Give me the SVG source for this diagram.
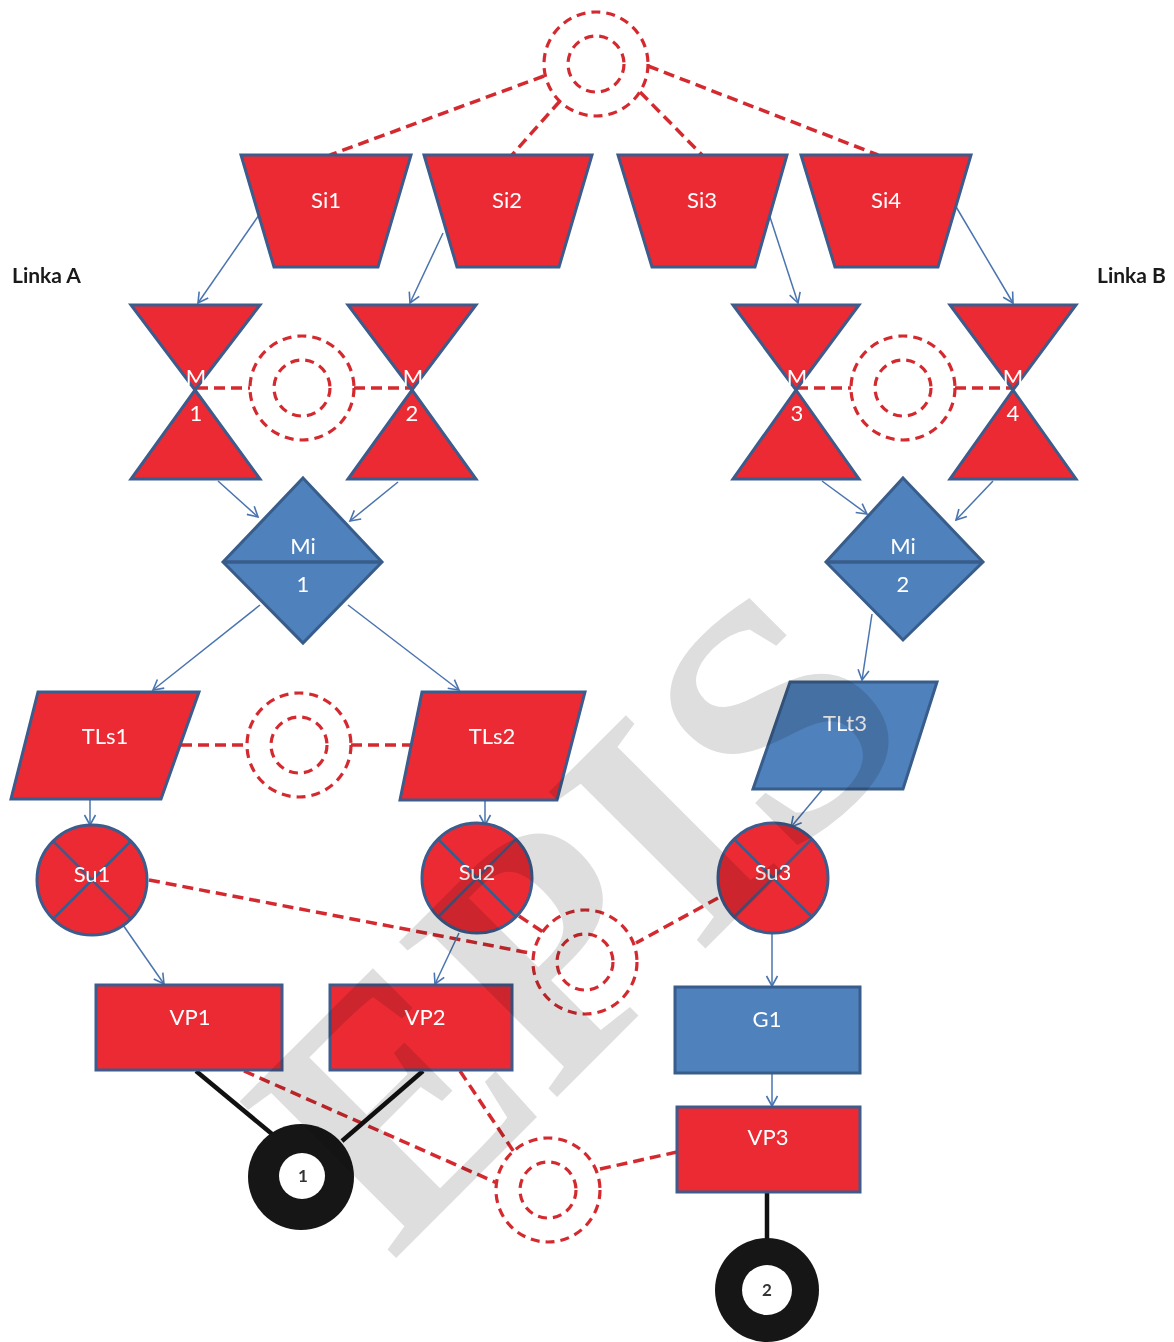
<svg xmlns="http://www.w3.org/2000/svg" width="1174" height="1342" viewBox="0 0 1174 1342">
  <style>
    .red { fill: #ec2a33; stroke: #3b5c8c; stroke-width: 3; stroke-linejoin: miter; }
    .blue { fill: #4f81bd; stroke: #385d8a; stroke-width: 3; }
    .lbl { font-family: Lato, "Liberation Sans", sans-serif; font-size: 22px; fill: #ffffff; text-anchor: middle; }
    .side { font-family: Lato, "Liberation Sans", sans-serif; font-size: 21px; font-weight: bold; fill: #1a1a1a; }
    .num { font-family: Lato, "Liberation Sans", sans-serif; font-size: 17px; font-weight: bold; fill: #333333; text-anchor: middle; }
    .flow { stroke: #4a74b0; stroke-width: 1.5; fill: none; marker-end: url(#arr); }
    .dash { stroke: #d42a2f; stroke-width: 3.5; fill: none; stroke-dasharray: 11 6; }
    .ring { stroke: #d42a2f; stroke-width: 3.2; fill: #ffffff; stroke-dasharray: 9 6; }
    .ringin { stroke: #d42a2f; stroke-width: 3.2; fill: none; stroke-dasharray: 9 6; }
    .blk { stroke: #111111; stroke-width: 4.5; fill: none; }
    .xline { stroke: #3b5c8c; stroke-width: 2.5; }
  </style>
  <defs>
    <marker id="arr" markerUnits="userSpaceOnUse" markerWidth="14" markerHeight="14" refX="11" refY="7" orient="auto">
      <path d="M1,1.5 L11,7 L1,12.5" fill="none" stroke="#4a74b0" stroke-width="1.6"/>
    </marker>
    <g id="coupling">
      <circle r="52" class="ring"/>
      <circle r="28" class="ringin"/>
    </g>
  </defs>

  <rect width="1174" height="1342" fill="#ffffff"/>

  <!-- line labels -->
  <text class="side" x="12" y="283">Linka A</text>
  <text class="side" x="1097" y="283">Linka B</text>

  <!-- connectors -->
  <g id="connectors">
    <!-- dashed links -->
    <line class="dash" x1="544" y1="76" x2="330" y2="155"/>
    <line class="dash" x1="560" y1="101" x2="512" y2="155"/>
    <line class="dash" x1="640" y1="92" x2="702" y2="155"/>
    <line class="dash" x1="648" y1="66" x2="878" y2="155"/>

    <line class="dash" x1="197" y1="388" x2="250" y2="388"/>
    <line class="dash" x1="354" y1="388" x2="411" y2="388"/>
    <line class="dash" x1="797" y1="388" x2="851" y2="388"/>
    <line class="dash" x1="955" y1="388" x2="1012" y2="388"/>

    <line class="dash" x1="181" y1="745" x2="247" y2="745"/>
    <line class="dash" x1="351" y1="745" x2="412" y2="745"/>

    <line class="dash" x1="149" y1="880" x2="535" y2="954"/>
    <line class="dash" x1="519" y1="916" x2="546" y2="934"/>
    <line class="dash" x1="718" y1="898" x2="636" y2="943"/>

    <line class="dash" x1="244" y1="1071" x2="497" y2="1183"/>
    <line class="dash" x1="460" y1="1071" x2="514" y2="1152"/>
    <line class="dash" x1="600" y1="1169" x2="677" y2="1152"/>

    <!-- flow arrows -->
    <line class="flow" x1="259" y1="215" x2="198" y2="303"/>
    <line class="flow" x1="443" y1="233" x2="410" y2="303"/>
    <line class="flow" x1="770" y1="217" x2="798" y2="303"/>
    <line class="flow" x1="955" y1="205" x2="1013" y2="303"/>

    <line class="flow" x1="218" y1="481" x2="258" y2="517"/>
    <line class="flow" x1="398" y1="482" x2="350" y2="521"/>
    <line class="flow" x1="822" y1="481" x2="867" y2="514"/>
    <line class="flow" x1="993" y1="481" x2="956" y2="520"/>

    <line class="flow" x1="260" y1="605" x2="153" y2="690"/>
    <line class="flow" x1="348" y1="605" x2="459" y2="690"/>
    <line class="flow" x1="872" y1="614" x2="862" y2="680"/>

    <line class="flow" x1="90" y1="800" x2="90" y2="825"/>
    <line class="flow" x1="485" y1="801" x2="485" y2="825"/>
    <line class="flow" x1="822" y1="790" x2="791" y2="827"/>

    <line class="flow" x1="123" y1="925" x2="164" y2="984"/>
    <line class="flow" x1="459" y1="933" x2="435" y2="984"/>
    <line class="flow" x1="772" y1="932" x2="772" y2="986"/>
    <line class="flow" x1="772" y1="1074" x2="772" y2="1106"/>

    <!-- solid links to tracks -->
    <line class="blk" x1="196" y1="1071" x2="272" y2="1134"/>
    <line class="blk" x1="423" y1="1071" x2="342" y2="1141"/>
    <line class="blk" x1="767" y1="1192" x2="767" y2="1240" stroke-width="6"/>
  </g>

  <!-- coupling rings -->
  <g id="ring-top"><use href="#coupling" x="596" y="64"/></g>
  <g id="ring-m12"><use href="#coupling" x="302" y="388"/></g>
  <g id="ring-m34"><use href="#coupling" x="903" y="388"/></g>
  <g id="ring-tls"><use href="#coupling" x="299" y="745"/></g>
  <g id="ring-su"><use href="#coupling" x="585" y="962"/></g>
  <g id="ring-vp"><use href="#coupling" x="548" y="1190"/></g>

  <!-- sources -->
  <g id="Si1">
    <polygon class="red" points="241,155 411,155 378,267 274,267"/>
    <text class="lbl" x="326" y="208">Si1</text>
  </g>
  <g id="Si2">
    <polygon class="red" points="424,155 592,155 559,267 457,267"/>
    <text class="lbl" x="507" y="208">Si2</text>
  </g>
  <g id="Si3">
    <polygon class="red" points="618,155 787,155 755,267 652,267"/>
    <text class="lbl" x="702" y="208">Si3</text>
  </g>
  <g id="Si4">
    <polygon class="red" points="801,155 971,155 938,267 835,267"/>
    <text class="lbl" x="886" y="208">Si4</text>
  </g>

  <!-- hourglass nodes -->
  <g id="M1">
    <polygon class="red" points="131,305 260,305 195,390"/>
    <polygon class="red" points="195,390 260,479 131,479"/>
    <text class="lbl" x="196" y="385">M</text>
    <text class="lbl" x="196" y="421">1</text>
  </g>
  <g id="M2">
    <polygon class="red" points="348,305 476,305 412,390"/>
    <polygon class="red" points="412,390 476,479 348,479"/>
    <text class="lbl" x="413" y="385">M</text>
    <text class="lbl" x="412" y="421">2</text>
  </g>
  <g id="M3">
    <polygon class="red" points="733,305 859,305 796,390"/>
    <polygon class="red" points="796,390 859,479 733,479"/>
    <text class="lbl" x="797" y="385">M</text>
    <text class="lbl" x="797" y="421">3</text>
  </g>
  <g id="M4">
    <polygon class="red" points="950,305 1076,305 1013,390"/>
    <polygon class="red" points="1013,390 1076,479 950,479"/>
    <text class="lbl" x="1013" y="385">M</text>
    <text class="lbl" x="1013" y="421">4</text>
  </g>

  <!-- mixers -->
  <g id="Mi1">
    <polygon class="blue" points="303,478 382,562 303,643 223,562"/>
    <line x1="224" y1="562" x2="381" y2="562" stroke="#385d8a" stroke-width="3.5"/>
    <text class="lbl" x="303" y="554">Mi</text>
    <text class="lbl" x="303" y="592">1</text>
  </g>
  <g id="Mi2">
    <polygon class="blue" points="903,478 983,562 903,640 826,562"/>
    <line x1="827" y1="562" x2="982" y2="562" stroke="#385d8a" stroke-width="3.5"/>
    <text class="lbl" x="903" y="554">Mi</text>
    <text class="lbl" x="903" y="592">2</text>
  </g>

  <!-- transfer lines -->
  <g id="TLs1">
    <polygon class="red" points="38,692 199,692 161,799 11,799"/>
    <text class="lbl" x="105" y="744">TLs1</text>
  </g>
  <g id="TLs2">
    <polygon class="red" points="422,692 585,692 557,800 400,800"/>
    <text class="lbl" x="492" y="744">TLs2</text>
  </g>
  <g id="TLt3">
    <polygon class="blue" points="790,682 937,682 903,789 753,789"/>
    <text class="lbl" x="845" y="731">TLt3</text>
  </g>

  <!-- cross nodes -->
  <g id="Su1">
    <circle class="red" cx="92" cy="880" r="55"/>
    <line class="xline" x1="53" y1="841" x2="131" y2="919"/>
    <line class="xline" x1="131" y1="841" x2="53" y2="919"/>
    <text class="lbl" x="92" y="882">Su1</text>
  </g>
  <g id="Su2">
    <circle class="red" cx="477" cy="878" r="55"/>
    <line class="xline" x1="438" y1="839" x2="516" y2="917"/>
    <line class="xline" x1="516" y1="839" x2="438" y2="917"/>
    <text class="lbl" x="477" y="880">Su2</text>
  </g>
  <g id="Su3">
    <circle class="red" cx="773" cy="878" r="55"/>
    <line class="xline" x1="734" y1="839" x2="812" y2="917"/>
    <line class="xline" x1="812" y1="839" x2="734" y2="917"/>
    <text class="lbl" x="773" y="880">Su3</text>
  </g>

  <!-- boxes -->
  <g id="VP1">
    <rect class="red" x="96" y="985" width="186" height="85" stroke-width="2.5"/>
    <text class="lbl" x="190" y="1025">VP1</text>
  </g>
  <g id="VP2">
    <rect class="red" x="330" y="985" width="182" height="85" stroke-width="2.5"/>
    <text class="lbl" x="425" y="1025">VP2</text>
  </g>
  <g id="G1">
    <rect class="blue" x="675" y="987" width="185" height="86" stroke-width="2.5"/>
    <text class="lbl" x="767" y="1027">G1</text>
  </g>
  <g id="VP3">
    <rect class="red" x="677" y="1107" width="183" height="85" stroke-width="2.5"/>
    <text class="lbl" x="768" y="1145">VP3</text>
  </g>

  <!-- track ends -->
  <g id="T1">
    <circle cx="301" cy="1177" r="53" fill="#161616"/>
    <circle cx="302" cy="1176" r="23" fill="#ffffff"/>
    <text class="num" x="303" y="1182">1</text>
  </g>
  <g id="T2">
    <circle cx="767" cy="1290" r="52" fill="#161616"/>
    <circle cx="767" cy="1290" r="25" fill="#ffffff"/>
    <text class="num" x="767" y="1296">2</text>
  </g>

  <!-- watermark -->
  <text x="392" y="1262" transform="rotate(-45 392 1262)" font-family="'Liberation Serif', serif" font-weight="bold" font-size="338" fill="#dedede" style="mix-blend-mode:multiply">EPIS</text>
</svg>
